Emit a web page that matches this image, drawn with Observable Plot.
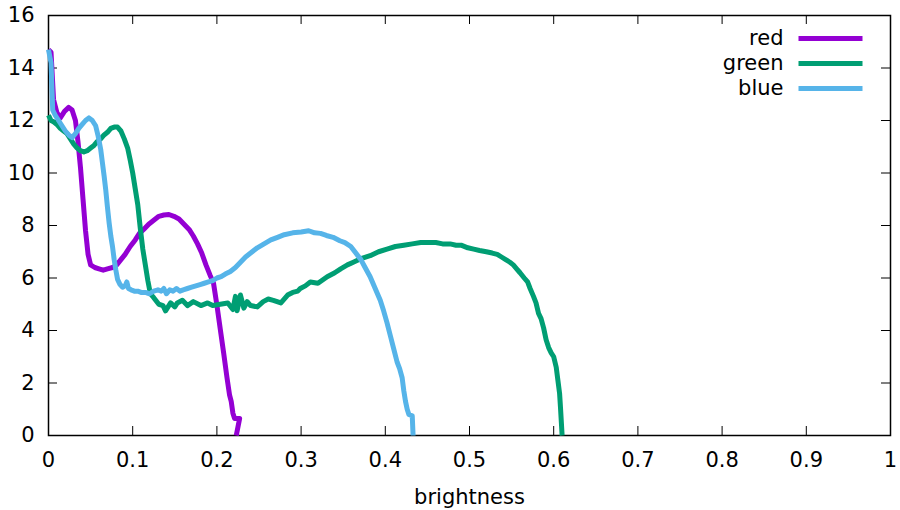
<!DOCTYPE html>
<html>
<head>
<meta charset="utf-8">
<script src="https://cdn.jsdelivr.net/npm/d3@7"></script>
<script src="https://cdn.jsdelivr.net/npm/@observablehq/plot@0.6"></script>
<style>
  html, body { margin: 0; padding: 0; background: white; }
  #chart { width: 900px; height: 510px; }
</style>
</head>
<body>
<div id="chart"></div>
<script>
const seriesNames = ["red", "green", "blue"];
const seriesColors = ["#9400d3", "#009e73", "#56b4e9"];
const xTicks = [0, 0.1, 0.2, 0.3, 0.4, 0.5, 0.6, 0.7, 0.8, 0.9, 1];
const yTicks = [0, 2, 4, 6, 8, 10, 12, 14, 16];
const xLabel = "brightness";

const redPts = [
  [0,14.7],[0.003,14.6],[0.006,12.8],[0.01,12.3],[0.014,12.1],[0.019,12.35],[0.024,12.5],[0.028,12.4],
  [0.032,12.0],[0.035,11.2],[0.038,10.2],[0.041,9.0],[0.044,7.8],[0.047,6.9],[0.05,6.5],[0.055,6.4],
  [0.06,6.35],[0.065,6.3],[0.07,6.35],[0.076,6.4],[0.081,6.5],[0.086,6.7],[0.091,6.9],[0.097,7.2],
  [0.103,7.45],[0.108,7.7],[0.113,7.85],[0.119,8.05],[0.125,8.2],[0.131,8.35],[0.137,8.4],[0.143,8.42],
  [0.149,8.35],[0.155,8.25],[0.161,8.05],[0.167,7.85],[0.172,7.6],[0.177,7.3],[0.182,6.95],[0.187,6.5],
  [0.192,6.1],[0.196,5.8],[0.2,4.97],[0.204,4.05],[0.208,3.15],[0.212,2.2],[0.215,1.55],[0.217,1.3],
  [0.219,0.85],[0.221,0.65],[0.227,0.65],[0.223,0]
];
const greenPts = [
  [0,12.2],[0.003,12.0],[0.006,11.95],[0.01,11.85],[0.014,11.7],[0.018,11.6],[0.022,11.5],[0.026,11.3],
  [0.03,11.1],[0.034,10.95],[0.038,10.85],[0.042,10.8],[0.046,10.85],[0.05,10.95],[0.054,11.05],[0.058,11.2],
  [0.062,11.3],[0.066,11.45],[0.07,11.55],[0.074,11.7],[0.078,11.75],[0.082,11.75],[0.086,11.6],[0.09,11.3],
  [0.094,10.95],[0.097,10.5],[0.1,10.0],[0.103,9.4],[0.106,8.8],[0.109,7.9],[0.112,7.1],[0.115,6.5],
  [0.118,5.9],[0.121,5.4],[0.125,5.25],[0.131,5.0],[0.136,4.95],[0.139,4.75],[0.145,5.05],[0.15,4.9],
  [0.153,5.05],[0.159,5.15],[0.165,4.95],[0.172,5.1],[0.181,4.95],[0.189,5.05],[0.195,4.95],[0.204,5.0],
  [0.213,5.05],[0.219,4.8],[0.222,5.3],[0.224,4.75],[0.228,5.35],[0.232,4.85],[0.236,5.1],[0.24,4.95],
  [0.248,4.9],[0.255,5.1],[0.261,5.2],[0.267,5.15],[0.276,5.05],[0.284,5.35],[0.29,5.45],[0.296,5.5],
  [0.299,5.6],[0.305,5.7],[0.311,5.85],[0.32,5.8],[0.331,6.05],[0.34,6.2],[0.347,6.35],[0.355,6.5],
  [0.362,6.6],[0.372,6.75],[0.382,6.85],[0.392,7.0],[0.402,7.1],[0.412,7.2],[0.422,7.25],[0.432,7.3],
  [0.442,7.35],[0.452,7.35],[0.46,7.35],[0.468,7.3],[0.477,7.3],[0.484,7.25],[0.49,7.25],[0.498,7.15],
  [0.505,7.1],[0.512,7.05],[0.52,7.0],[0.527,6.95],[0.533,6.9],[0.538,6.8],[0.543,6.7],[0.548,6.6],
  [0.552,6.5],[0.556,6.35],[0.56,6.2],[0.565,6.0],[0.569,5.85],[0.572,5.6],[0.576,5.3],[0.579,5.05],
  [0.582,4.65],[0.585,4.45],[0.588,4.1],[0.591,3.65],[0.594,3.35],[0.597,3.15],[0.6,3.0],[0.603,2.6],
  [0.605,2.1],[0.607,1.6],[0.608,1.1],[0.61,0]
];
const bluePts = [
  [0,14.7],[0.003,14.2],[0.005,12.4],[0.008,12.2],[0.012,12.0],[0.016,11.8],[0.02,11.6],[0.024,11.45],
  [0.028,11.35],[0.032,11.5],[0.036,11.7],[0.04,11.85],[0.044,12.0],[0.048,12.1],[0.052,12.0],[0.056,11.8],
  [0.059,11.4],[0.062,10.9],[0.064,10.4],[0.066,9.9],[0.068,9.35],[0.07,8.7],[0.072,8.1],[0.074,7.6],
  [0.076,7.2],[0.078,6.7],[0.08,6.3],[0.082,5.95],[0.085,5.75],[0.088,5.65],[0.091,5.7],[0.093,5.85],
  [0.095,5.6],[0.098,5.55],[0.102,5.5],[0.106,5.5],[0.11,5.45],[0.115,5.45],[0.12,5.4],[0.125,5.5],
  [0.13,5.55],[0.134,5.5],[0.137,5.6],[0.14,5.4],[0.144,5.55],[0.148,5.5],[0.152,5.6],[0.156,5.5],
  [0.16,5.55],[0.165,5.6],[0.17,5.65],[0.175,5.7],[0.18,5.75],[0.185,5.8],[0.19,5.85],[0.195,5.9],
  [0.2,6.0],[0.205,6.05],[0.21,6.15],[0.216,6.25],[0.222,6.4],[0.228,6.6],[0.234,6.8],[0.24,6.95],
  [0.248,7.15],[0.256,7.3],[0.264,7.45],[0.272,7.55],[0.28,7.65],[0.29,7.72],[0.3,7.75],[0.309,7.8],
  [0.316,7.72],[0.323,7.7],[0.33,7.62],[0.338,7.55],[0.346,7.42],[0.352,7.35],[0.359,7.2],[0.365,6.95],
  [0.371,6.7],[0.376,6.4],[0.382,6.05],[0.388,5.6],[0.394,5.15],[0.398,4.75],[0.402,4.3],[0.406,3.8],
  [0.41,3.3],[0.414,2.8],[0.417,2.55],[0.42,2.2],[0.422,1.7],[0.424,1.3],[0.426,1.0],[0.428,0.8],
  [0.432,0.75],[0.433,0]
];

const W = 900, H = 510, mL = 48, mR = 10, mT = 15, mB = 75;
const plotW = W - mL - mR, plotH = H - mT - mB;
const tickLen = 9;
const FS = 21;
const LW = 5;
const seriesData = [redPts, greenPts, bluePts];

const legendSymbol = { draw(ctx) { ctx.moveTo(-32, 0); ctx.lineTo(32, 0); } };

const marks = [
  Plot.frame({ stroke: "black", strokeWidth: 1.5 }),
  Plot.tickX(xTicks, { x: d => d, insetTop: plotH - tickLen, stroke: "black", strokeWidth: 1 }),
  Plot.tickX(xTicks, { x: d => d, insetBottom: plotH - tickLen, stroke: "black", strokeWidth: 1 }),
  Plot.tickY(yTicks, { y: d => d, insetRight: plotW - tickLen, stroke: "black", strokeWidth: 1 }),
  Plot.tickY(yTicks, { y: d => d, insetLeft: plotW - tickLen, stroke: "black", strokeWidth: 1 }),
  Plot.axisX(xTicks, { tickSize: 0, tickPadding: 17, tickFormat: d => String(d), fontSize: FS, label: null }),
  Plot.axisY(yTicks, { tickSize: 0, tickPadding: 14, tickFormat: d => String(d), fontSize: FS, label: null }),
  Plot.text([xLabel], { text: d => d, frameAnchor: "bottom", dy: 62, fontSize: FS, lineAnchor: "middle" }),
  ...seriesData.map((pts, i) => Plot.line(pts, {
    x: d => d[0], y: d => d[1], stroke: seriesColors[i], strokeWidth: LW,
    strokeLinejoin: "round", strokeLinecap: "butt"
  })),
  ...seriesNames.map((name, i) => Plot.text([name], {
    text: d => d, frameAnchor: "top-right", textAnchor: "end", lineAnchor: "middle",
    dx: -107, dy: 23 + 25 * i, fontSize: FS
  })),
  ...seriesNames.map((name, i) => Plot.dot([name], {
    frameAnchor: "top-right", dx: -60, dy: 23 + 25 * i, symbol: legendSymbol,
    fill: "none", stroke: seriesColors[i], strokeWidth: LW
  }))
];

const chart = Plot.plot({
  width: W, height: H,
  marginLeft: mL, marginRight: mR, marginTop: mT, marginBottom: mB,
  x: { domain: [0, 1] },
  y: { domain: [0, 16] },
  style: { fontFamily: "DejaVu Sans", fontSize: FS + "px", background: "white", color: "black" },
  marks
});
document.getElementById("chart").appendChild(chart);
</script>
</body>
</html>
